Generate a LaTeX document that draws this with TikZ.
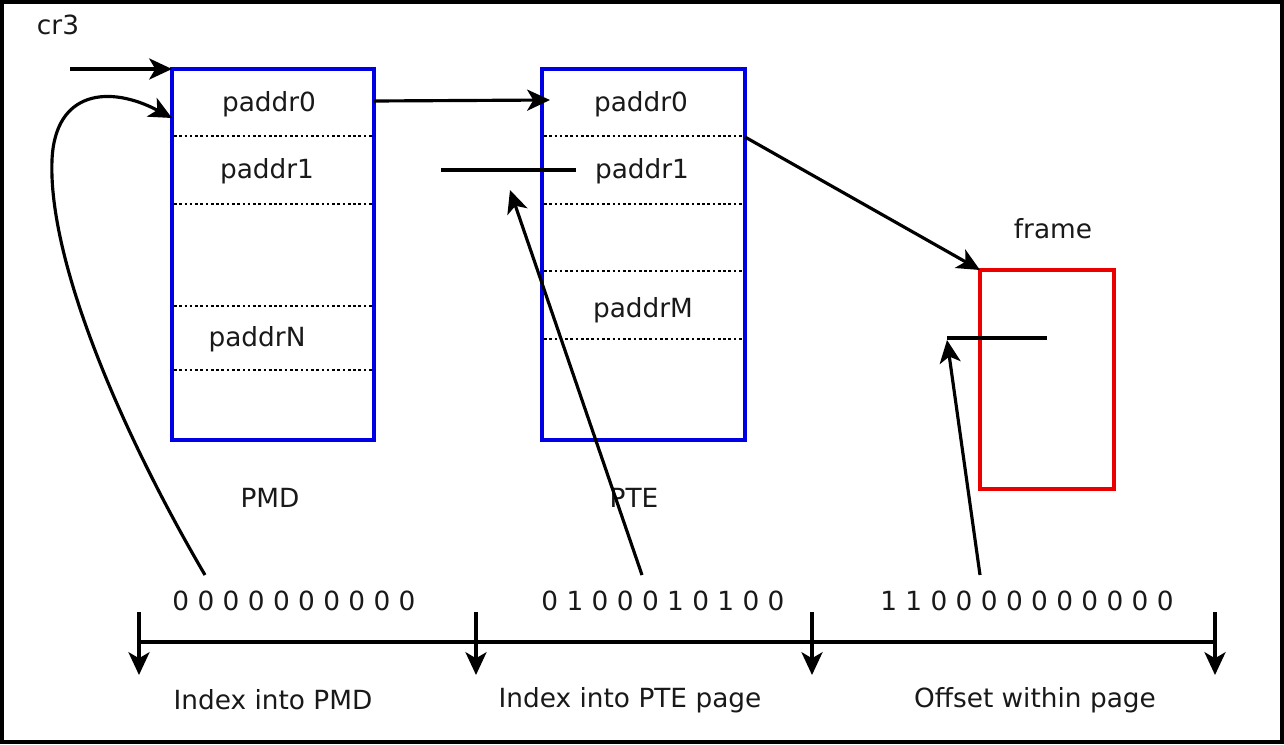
\documentclass[tikz,border=0pt]{standalone}
\usepackage{fontspec}
\setmainfont{DejaVu Sans}
\usetikzlibrary{arrows.meta}

\begin{document}
\begin{tikzpicture}[x=0.02cm,y=-0.02cm,
  lbl/.style={font=\fontsize{15}{18}\selectfont, text=black!90, inner sep=0},
  tbl/.style={draw=blue!90!black, line width=1.8pt, inner sep=0, outer sep=0, anchor=north west},
  pagebox/.style={draw=red!92!black, line width=1.8pt, inner sep=0, outer sep=0, anchor=north west},
  sep/.style={line width=1.6pt, dash pattern=on 1.5pt off 1.5pt},
  ptr/.style={line width=1.8pt, -{Stealth[length=13pt,width=12pt,inset=3.5pt]}},
  bar/.style={line width=1.8pt}]

% page and outer frame
\useasboundingbox (0,0) rectangle (1284,744);
\fill[white] (0,0) rectangle (1284,744);
\draw[line width=2.2pt] (2,2) rectangle (1282,742);

% tables
\node[tbl, minimum width=4.04cm, minimum height=7.42cm] (pmd) at (172,69) {};
\node[tbl, minimum width=4.06cm, minimum height=7.42cm] (pte) at (542,69) {};
\node[pagebox, minimum width=2.68cm, minimum height=4.38cm] (frame) at (980,270) {};

% entry separators
\foreach \y in {136,204,306,370} \draw[sep] (174,\y) -- (372,\y);
\foreach \y in {136,204,271,339} \draw[sep] (544,\y) -- (743,\y);

% entry labels
\node[lbl] (cr3) at (58,25) {cr3};
\node[lbl] (pmd0) at (269,104) {paddr0};
\node[lbl] (pmd1) at (267,171) {paddr1};
\node[lbl] (pmdN) at (257,339) {paddrN};
\node[lbl] (pte0) at (641,104) {paddr0};
\node[lbl] (pte1) at (642,171) {paddr1};
\node[lbl] (pteM) at (643,310) {paddrM};
\node[lbl] (pmdname) at (270,498) {PMD};
\node[lbl] (ptename) at (634,498) {PTE};
\node[lbl] (framename) at (1053,229) {frame};

% address bits
\node[lbl] (bitsA) at (294,601) {0 0 0 0 0 0 0 0 0 0};
\node[lbl] (bitsB) at (663,601) {0 1 0 0 0 1 0 1 0 0};
\node[lbl] (bitsC) at (1027,601) {1 1 0 0 0 0 0 0 0 0 0 0};

% field names
\node[lbl] (fieldA) at (273,700) {Index into PMD};
\node[lbl] (fieldB) at (630,700) {Index into PTE page};
\node[lbl] (fieldC) at (1035,700) {Offset within page};

% connector end points
\coordinate (cr3in) at (70,69);
\coordinate (pmdout) at (374,101);
\coordinate (pteentry) at (550,100);
\coordinate (pteout) at (745,137);
\coordinate (selA) at (441,170);
\coordinate (selB) at (576,170);
\coordinate (offA) at (947,338);
\coordinate (offB) at (1047,338);
\coordinate (fromA) at (205,575);
\coordinate (fromB) at (642,575);
\coordinate (fromC) at (980,575);
\coordinate (pmdin) at (172,118);
\coordinate (selhit) at (510,190);
\coordinate (offhit) at (947,340);

% pointers
\draw[ptr] (cr3in) -- (pmd.north west);
\draw[ptr] (pmdout) -- (pteentry);
\draw[ptr] (pteout) -- (frame.north west);
\draw[bar] (selA) -- (selB);
\draw[bar] (offA) -- (offB);
\draw[ptr] (fromA) .. controls (120,430) and (48,260) .. (52,160)
                   .. controls (55,90) and (110,85) .. (pmdin);
\draw[ptr] (fromB) -- (selhit);
\draw[ptr] (fromC) -- (offhit);

% address split
\coordinate (tick1) at (139,642);
\coordinate (tick2) at (476,642);
\coordinate (tick3) at (812,642);
\coordinate (tick4) at (1215,642);
\draw[bar] (tick1) -- (tick4);
\foreach \t in {tick1,tick2,tick3,tick4}
  \draw[ptr] ([yshift=30*0.02cm]\t) -- ([yshift=-33*0.02cm]\t);

\end{tikzpicture}
\end{document}
